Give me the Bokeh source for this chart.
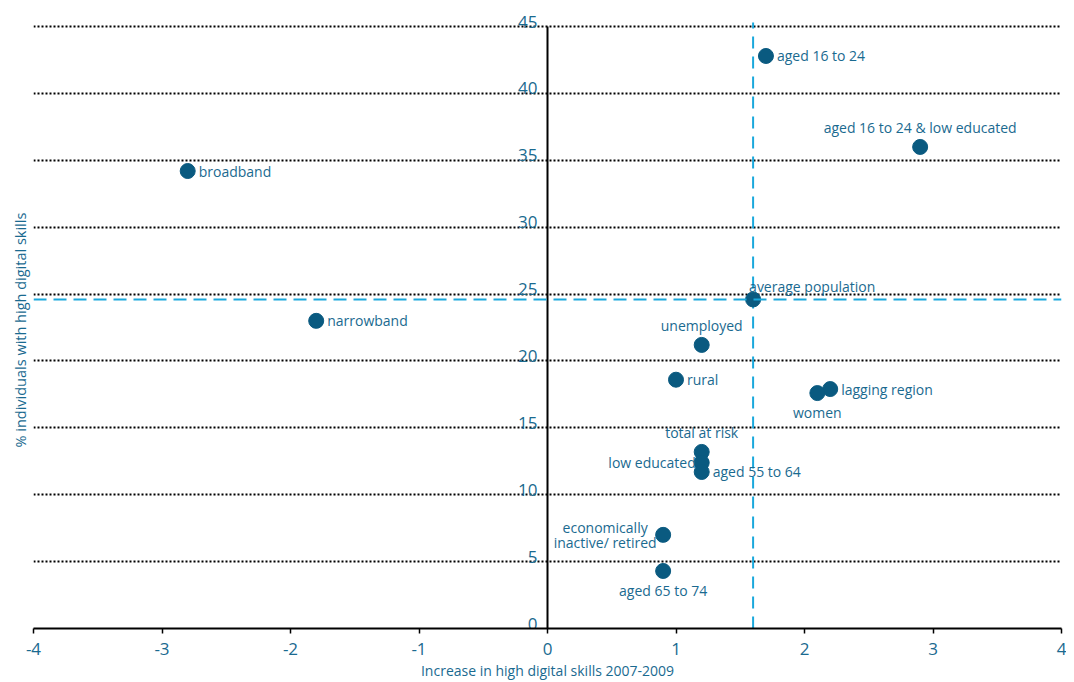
from bokeh.plotting import figure
from bokeh.models import ColumnDataSource, Span, Title, FixedTicker
from bokeh.core.properties import value
from bokeh.embed import file_html
from bokeh.resources import INLINE

names = ["aged 16 to 24", "aged 16 to 24 & low educated", "broadband", "average population",
         "narrowband", "unemployed", "rural", "lagging region", "women", "total at risk",
         "low educated", "aged 55 to 64", "economically\ninactive/ retired", "aged 65 to 74"]
increase = [1.7, 2.9, -2.8, 1.6, -1.8, 1.2, 1.0, 2.2, 2.1, 1.2, 1.2, 1.2, 0.9, 0.9]
share = [42.8, 36.0, 34.2, 24.6, 23.0, 21.2, 18.6, 17.9, 17.6, 13.2, 12.4, 11.7, 7.0, 4.3]
# label placement per point
placement = ["right", "above", "right", "above_left", "right", "above", "right", "right",
             "below", "above", "left", "right", "left_block", "below"]

x_ticks = [-4, -3, -2, -1, 0, 1, 2, 3, 4]
x_tick_labels = ["-4", "-3", "-2", "-1", "0", "1", "2", "3", "4"]
y_ticks = [0, 5, 10, 15, 20, 25, 30, 35, 40, 45]
y_tick_labels = ["0", "5", "10", "15", "20", "25", "30", "35", "40", "45"]
avg_x = 1.6
avg_y = 24.6

TEXT = "#1a6a90"
DOT = "#0a5a80"
DASH = "#1aa8dc"
FONT = "Open Sans"

p = figure(frame_width=1028, frame_height=618, x_range=(-4, 4), y_range=(0, 46.2),
           output_backend="svg", toolbar_location=None,
           min_border_left=33, min_border_right=5, min_border_top=10, min_border_bottom=0)
p.outline_line_color = None
p.background_fill_color = "white"
p.yaxis.visible = False
p.xgrid.visible = False

p.xaxis.ticker = FixedTicker(ticks=x_ticks)
p.xaxis.major_label_overrides = {t: l for t, l in zip(x_ticks, x_tick_labels)}
p.xaxis.axis_line_color = "black"
p.xaxis.axis_line_width = 2
p.xaxis.major_tick_line_color = "black"
p.xaxis.major_tick_line_width = 1.5
p.xaxis.major_tick_out = 5
p.xaxis.major_tick_in = 0
p.xaxis.minor_tick_line_color = None
p.xaxis.major_label_text_color = TEXT
p.xaxis.major_label_text_font = FONT
p.xaxis.major_label_text_font_size = "17px"
p.xaxis.major_label_standoff = 9
p.xaxis.axis_label = "Increase in high digital skills 2007-2009"
p.xaxis.axis_label_text_color = TEXT
p.xaxis.axis_label_text_font = FONT
p.xaxis.axis_label_text_font_style = "normal"
p.xaxis.axis_label_text_font_size = "14px"
p.xaxis.axis_label_standoff = 3

p.ygrid.ticker = FixedTicker(ticks=y_ticks)
p.ygrid.grid_line_color = "black"
p.ygrid.grid_line_width = 2
p.ygrid.grid_line_dash = "2 2"

ytitle = Title(text="% individuals with high digital skills", align="left",
               text_color=TEXT, text_font=FONT, text_font_style="normal",
               text_font_size="14.5px", standoff=7, offset=181)
p.add_layout(ytitle, "left")

# y axis at x=0
p.segment(x0=[0], y0=[0], x1=[0], y1=[y_ticks[-1]], line_color="black", line_width=2)
ysrc = ColumnDataSource(dict(x=[0] * len(y_ticks), y=y_ticks, t=y_tick_labels))
p.text(x="x", y="y", text="t", source=ysrc, x_offset=-10, y_offset=1,
       text_align="right", text_baseline="bottom", text_color=TEXT,
       text_font=value(FONT), text_font_size="17px")

p.add_layout(Span(location=avg_y, dimension="width", line_color=DASH, line_width=2, line_dash="13 7"))
p.segment(x0=[avg_x], y0=[0], x1=[avg_x], y1=[45.3], line_color=DASH, line_width=2, line_dash="12 8")

p.scatter(increase, share, size=15, fill_color=DOT, line_color=DOT)

offsets = {
    "right": (11, 0, "left", "middle"),
    "left": (-6, 0, "right", "middle"),
    "left_block": (-58, 0, "center", "middle"),
    "above": (0, -10, "center", "bottom"),
    "above_left": (-4, -3, "left", "bottom"),
    "below": (0, 10, "center", "top"),
}
lx, ly, lt, xo, yo, al, bl = [], [], [], [], [], [], []
for n, x, y, pl in zip(names, increase, share, placement):
    o = offsets[pl]
    lx.append(x); ly.append(y); lt.append(n)
    xo.append(o[0]); yo.append(o[1]); al.append(o[2]); bl.append(o[3])
lsrc = ColumnDataSource(dict(x=lx, y=ly, t=lt, xo=xo, yo=yo, al=al, bl=bl))
p.text(x="x", y="y", text="t", source=lsrc, x_offset="xo", y_offset="yo",
       text_align="al", text_baseline="bl", text_color=TEXT,
       text_font=value(FONT), text_font_size="14px", text_line_height=0.8)

open("out.html", "w").write(file_html(p, INLINE))
